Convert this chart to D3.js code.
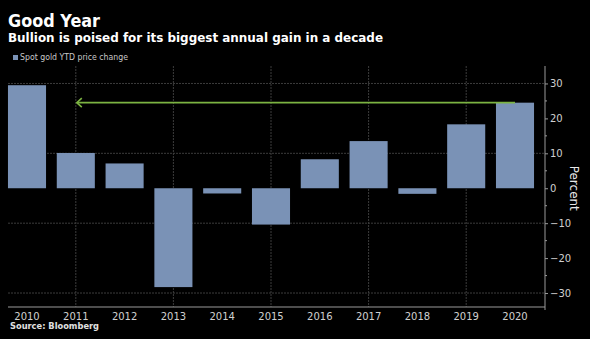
<!DOCTYPE html>
<html>
<head>
<meta charset="utf-8">
<script src="https://cdn.jsdelivr.net/npm/d3@7/dist/d3.min.js"></script>
<style>
  html, body { margin: 0; padding: 0; background: #000; }
  svg { display: block; }
</style>
</head>
<body>
<svg id="chart" width="590" height="339"></svg>
<script>
// Spot gold year-to-date price change, percent
const years = ["2010", "2011", "2012", "2013", "2014", "2015", "2016", "2017", "2018", "2019", "2020"];
const changes = [29.5, 10.1, 7.1, -28.3, -1.5, -10.4, 8.3, 13.5, -1.6, 18.3, 24.5];
const yTicks = [30, 20, 10, 0, -10, -20, -30];
const yGrid = [30, 10, -10, -30];
const gridYears = ["2011", "2013", "2015", "2017", "2019"];

const svg = d3.select("#chart");
const W = 590, H = 339;
const plot = { left: 8, right: 545, top: 66, bottom: 307 };

svg.append("rect").attr("width", W).attr("height", H).attr("fill", "#000");

const x = d3.scaleBand()
  .domain(years)
  .range([2.6, 539.4])
  .paddingInner(0.22)
  .paddingOuter(0.11);

const y = d3.scaleLinear()
  .domain([-34, 35])
  .range([plot.bottom, plot.top]);

// Gridlines
const grid = svg.append("g");
grid.selectAll("line.h").data(yGrid).join("line")
  .attr("x1", plot.left).attr("x2", plot.right)
  .attr("y1", d => y(d)).attr("y2", d => y(d))
  .attr("stroke", "#3c3c3c").attr("stroke-width", 1)
  .attr("stroke-dasharray", "2,1");
grid.selectAll("line.v").data(gridYears).join("line")
  .attr("x1", d => x(d) + x.bandwidth() / 2).attr("x2", d => x(d) + x.bandwidth() / 2)
  .attr("y1", plot.top).attr("y2", plot.bottom)
  .attr("stroke", "#3c3c3c").attr("stroke-width", 1)
  .attr("stroke-dasharray", "2,1");

// Bars
svg.append("g").selectAll("rect").data(years).join("rect")
  .attr("x", d => x(d))
  .attr("width", x.bandwidth())
  .attr("y", (d, i) => y(Math.max(0, changes[i])))
  .attr("height", (d, i) => Math.abs(y(changes[i]) - y(0)))
  .attr("fill", "#7a92b6");

// Arrow pointing back to 2011 at the 2020 level
const last = changes[changes.length - 1];
const ay = y(last);
const ax0 = x("2011") + x.bandwidth() / 2;
const ax1 = x("2020") + x.bandwidth() / 2;
const arrowColor = "#7cb342";
svg.append("line")
  .attr("x1", ax0 + 1).attr("x2", ax1)
  .attr("y1", ay).attr("y2", ay)
  .attr("stroke", arrowColor).attr("stroke-width", 1.6);
svg.append("path")
  .attr("d", `M${ax0 + 6},${ay - 4.5} L${ax0 + 1},${ay} L${ax0 + 6},${ay + 4.5}`)
  .attr("fill", "none").attr("stroke", arrowColor).attr("stroke-width", 1.6);

// Bottom axis line
svg.append("line")
  .attr("x1", plot.left).attr("x2", plot.right)
  .attr("y1", plot.bottom).attr("y2", plot.bottom)
  .attr("stroke", "#9a9a9a").attr("stroke-width", 1);

// Right axis
const yAxis = d3.axisRight(y)
  .tickValues(yTicks)
  .tickSize(3)
  .tickPadding(2)
  .tickFormat(d => d3.format("d")(d));
const gy = svg.append("g")
  .attr("transform", `translate(${plot.right},0)`)
  .call(yAxis);
gy.select(".domain").attr("stroke", "#9a9a9a").attr("d", `M0,${plot.top}V${plot.bottom + 3}`);
gy.selectAll(".tick line").attr("stroke", "#9a9a9a");
gy.selectAll(".tick text")
  .attr("fill", "#d0d0d0")
  .attr("font-family", "DejaVu Sans, sans-serif")
  .attr("font-size", 10);

// Minor ticks every 5
svg.append("g").selectAll("line").data(d3.range(-30, 35, 10).map(v => v + 5).filter(v => v < 35))
  .join("line")
  .attr("x1", plot.right).attr("x2", plot.right + 2)
  .attr("y1", d => y(d)).attr("y2", d => y(d))
  .attr("stroke", "#9a9a9a");

// Year labels
const xAxis = d3.axisBottom(x).tickSize(0).tickPadding(6);
const gx = svg.append("g")
  .attr("transform", `translate(0,${plot.bottom})`)
  .call(xAxis);
gx.select(".domain").remove();
gx.selectAll(".tick text")
  .attr("fill", "#d0d0d0")
  .attr("font-family", "DejaVu Sans, sans-serif")
  .attr("font-size", 10);

// Axis title
svg.append("text")
  .attr("transform", `translate(570,${y(0)}) rotate(90)`)
  .attr("text-anchor", "middle")
  .attr("fill", "#e8e8e8")
  .attr("font-family", "DejaVu Sans, sans-serif")
  .attr("font-size", 12)
  .text("Percent");

// Titles
svg.append("text")
  .attr("x", 8).attr("y", 27)
  .attr("fill", "#ffffff")
  .attr("font-family", "DejaVu Sans, sans-serif")
  .attr("font-weight", "bold")
  .attr("font-size", 17)
  .attr("textLength", 92).attr("lengthAdjust", "spacingAndGlyphs")
  .text("Good Year");
svg.append("text")
  .attr("x", 8).attr("y", 42)
  .attr("fill", "#ffffff")
  .attr("font-family", "DejaVu Sans, sans-serif")
  .attr("font-weight", "bold")
  .attr("font-size", 12.5)
  .attr("textLength", 375).attr("lengthAdjust", "spacingAndGlyphs")
  .text("Bullion is poised for its biggest annual gain in a decade");

// Legend
svg.append("rect")
  .attr("x", 13).attr("y", 55).attr("width", 5).attr("height", 5)
  .attr("fill", "#7a92b6");
svg.append("text")
  .attr("x", 20).attr("y", 60)
  .attr("fill", "#c8c8c8")
  .attr("font-family", "DejaVu Sans, sans-serif")
  .attr("font-size", 8)
  .attr("textLength", 108).attr("lengthAdjust", "spacingAndGlyphs")
  .text("Spot gold YTD price change");

// Source
svg.append("text")
  .attr("x", 10).attr("y", 329)
  .attr("fill", "#e0e0e0")
  .attr("font-family", "DejaVu Sans, sans-serif")
  .attr("font-weight", "bold")
  .attr("font-size", 8.5)
  .attr("textLength", 89).attr("lengthAdjust", "spacingAndGlyphs")
  .text("Source: Bloomberg");
</script>
</body>
</html>
